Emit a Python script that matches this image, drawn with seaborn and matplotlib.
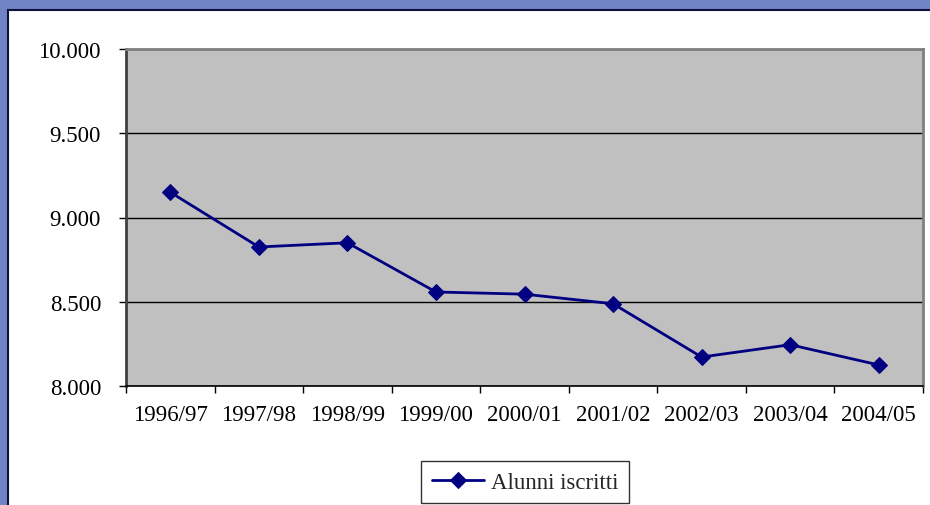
import matplotlib
matplotlib.use("Agg")
import matplotlib.pyplot as plt
from matplotlib.patches import Rectangle
from matplotlib.ticker import FixedLocator, FuncFormatter
import seaborn as sns
import pandas as pd

years = ["1996/97", "1997/98", "1998/99", "1999/00", "2000/01",
         "2001/02", "2002/03", "2003/04", "2004/05"]
alunni = [9150, 8825, 8850, 8558, 8545, 8488, 8172, 8245, 8125]
series_name = "Alunni iscritti"
y_ticks = [8000, 8500, 9000, 9500, 10000]

sns.set_theme(style="white")
plt.rcParams["font.family"] = ["Liberation Serif", "DejaVu Serif"]

df = pd.DataFrame({"anno": years, "valore": alunni, "serie": series_name})

W, H = 930, 506
fig = plt.figure(figsize=(W / 100, H / 100), dpi=100)
fig.patch.set_facecolor("#7083C4")
# white inner panel
fig.patches.append(Rectangle((7.5 / W, -0.02), 1, (H - 10.5) / H + 0.02, transform=fig.transFigure,
                             facecolor="white", edgecolor="#10103a", linewidth=1.5, zorder=-5))

ax = fig.add_axes([126 / W, (H - 387) / H, (923 - 126) / W, (387 - 50) / H])
ax.set_zorder(2)
ax.set_facecolor("#C0C0C0")

sns.lineplot(data=df, x="anno", y="valore", hue="serie", palette=["#000080"],
             marker="D", markersize=8.5, markeredgecolor="#000080", linewidth=2.0,
             sort=False, ax=ax, legend=True)

ax.set_xlim(-0.5, len(years) - 0.5)
ax.set_ylim(8000, 10000)
ax.set_yticks(y_ticks)
ax.yaxis.set_major_formatter(FuncFormatter(lambda v, p: f"{int(v):,}".replace(",", ".")))
ax.grid(axis="y", color="black", linewidth=1.0)
ax.set_axisbelow(True)
ax.set_xlabel("")
ax.set_ylabel("")

ax.set_xticks(range(len(years)))
ax.set_xticklabels(years)
ax.xaxis.set_minor_locator(FixedLocator([i - 0.5 for i in range(len(years) + 1)]))
ax.tick_params(axis="x", which="major", length=0, pad=13, labelsize=16.5, colors="black")
ax.tick_params(axis="x", which="minor", length=5, width=1, direction="out", color="black", bottom=True)
ax.tick_params(axis="y", which="major", length=5, width=1, direction="out", pad=13,
               labelsize=16.5, colors="black", left=True)

for s in ["top", "right"]:
    ax.spines[s].set_color("#808080")
    ax.spines[s].set_linewidth(2)
for s in ["left", "bottom"]:
    ax.spines[s].set_color("black")
    ax.spines[s].set_linewidth(1.2)
ax.spines["left"].set_color("#404040")
ax.spines["left"].set_linewidth(2)

handles, labels = ax.get_legend_handles_labels()
ax.get_legend().remove()
leg = fig.legend(handles, labels, loc="center", bbox_to_anchor=(525 / W, 23 / H),
                 frameon=True, fancybox=False, fontsize=16.5, handlelength=2.3,
                 borderpad=0.45, handletextpad=0.3, borderaxespad=0)
leg.get_frame().set_edgecolor("black")
leg.get_frame().set_linewidth(1.0)
leg.get_frame().set_facecolor("white")

fig.savefig("out.png", dpi=100, facecolor=fig.get_facecolor())
